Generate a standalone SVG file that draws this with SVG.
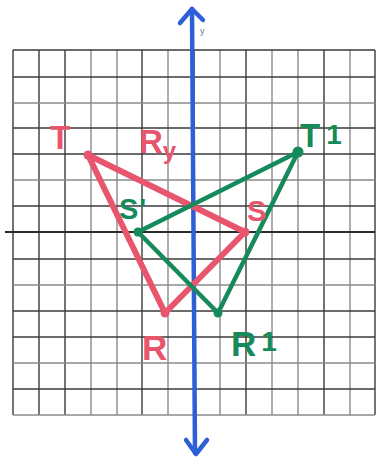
<svg xmlns="http://www.w3.org/2000/svg" width="380" height="459" viewBox="0 0 380 459">
<style>
.gd{stroke:#3a3a3a;stroke-width:1.4;fill:none}
.gl{stroke:#8a8a8a;stroke-width:1.4;fill:none}
.pink{stroke:#e8566e;stroke-width:6;fill:none;stroke-linecap:round;stroke-linejoin:round}
.green{stroke:#178a5c;stroke-width:4.5;fill:none;stroke-linecap:round;stroke-linejoin:round}
.axis{stroke:#2d5fd6;stroke-width:4.5;fill:none;stroke-linecap:round;stroke-linejoin:round}
.lp{fill:#e8566e;font-family:"Liberation Sans",Arial,sans-serif;font-weight:bold}
.lg{fill:#178a5c;font-family:"Liberation Sans",Arial,sans-serif;font-weight:bold}
</style>
<rect width="380" height="459" fill="#ffffff"/>
<g id="grid">
<line class="gd" x1="13" y1="50" x2="13" y2="415"/>
<line class="gd" x1="39" y1="50" x2="39" y2="415"/>
<line class="gd" x1="65" y1="50" x2="65" y2="415"/>
<line class="gl" x1="91" y1="50" x2="91" y2="415"/>
<line class="gl" x1="117" y1="50" x2="117" y2="415"/>
<line class="gd" x1="142" y1="50" x2="142" y2="415"/>
<line class="gl" x1="168" y1="50" x2="168" y2="415"/>
<line class="gd" x1="194" y1="50" x2="194" y2="415"/>
<line class="gl" x1="220" y1="50" x2="220" y2="415"/>
<line class="gd" x1="246" y1="50" x2="246" y2="415"/>
<line class="gl" x1="272" y1="50" x2="272" y2="415"/>
<line class="gl" x1="298" y1="50" x2="298" y2="415"/>
<line class="gd" x1="324" y1="50" x2="324" y2="415"/>
<line class="gl" x1="350" y1="50" x2="350" y2="415"/>
<line class="gd" x1="375" y1="50" x2="375" y2="415"/>
<line class="gd" x1="13" y1="50" x2="375" y2="50"/>
<line class="gd" x1="13" y1="77" x2="375" y2="77"/>
<line class="gl" x1="13" y1="103" x2="375" y2="103"/>
<line class="gd" x1="13" y1="128" x2="375" y2="128"/>
<line class="gd" x1="13" y1="154" x2="375" y2="154"/>
<line class="gl" x1="13" y1="180" x2="375" y2="180"/>
<line class="gd" x1="13" y1="206" x2="375" y2="206"/>
<line x1="5" y1="232" x2="375" y2="232" stroke="#2a2a2a" stroke-width="1.8"/>
<line class="gd" x1="13" y1="259" x2="375" y2="259"/>
<line class="gl" x1="13" y1="285" x2="375" y2="285"/>
<line class="gd" x1="13" y1="311" x2="375" y2="311"/>
<line class="gd" x1="13" y1="337" x2="375" y2="337"/>
<line class="gl" x1="13" y1="363" x2="375" y2="363"/>
<line class="gd" x1="13" y1="389" x2="375" y2="389"/>
<line class="gl" x1="13" y1="415" x2="375" y2="415"/>
</g>
<g id="y-axis">
<path class="axis" d="M192 9 Q193 200 195 453"/>
<path class="axis" d="M180 23 L192 9 L203 20"/>
<path class="axis" d="M186 440 L196 454 L207 440"/>
<text x="200" y="34" font-family="Liberation Sans,Arial,sans-serif" font-size="9" fill="#6a7aa0">y</text>
</g>
<g id="connectors">
<polygon class="pink" points="88,155 245,232 165,313"/>
<polygon class="green" points="298,152 138,232 218,313"/>
</g>
<g id="vertices">
<circle cx="88" cy="155" r="4.5" fill="#e8566e"/>
<circle cx="245" cy="232" r="4.5" fill="#e8566e"/>
<circle cx="165" cy="313" r="4.5" fill="#e8566e"/>
<circle cx="298" cy="152" r="5.5" fill="#178a5c"/>
<circle cx="138" cy="232" r="4.5" fill="#178a5c"/>
<circle cx="218" cy="313" r="4.5" fill="#178a5c"/>
</g>
<g id="label-T"><text class="lp" x="60" y="149" font-size="33" text-anchor="middle">T</text></g>
<g id="label-Ry"><text class="lp" x="139" y="153" font-size="33">R<tspan font-size="24" dx="0" dy="6">y</tspan></text></g>
<g id="label-S"><text class="lp" x="247" y="221" font-size="29">S</text></g>
<g id="label-R"><text class="lp" x="142" y="360" font-size="35">R</text></g>
<g id="label-T1"><text class="lg" x="300" y="147" font-size="33">T<tspan dx="6" dy="-3" font-size="28">1</tspan></text></g>
<g id="label-S1"><text class="lg" x="119" y="219" font-size="29">S<tspan dx="1">'</tspan></text></g>
<g id="label-R1"><text class="lg" x="231" y="356" font-size="35">R<tspan dx="5" dy="-5" font-size="28">1</tspan></text></g>
</svg>
